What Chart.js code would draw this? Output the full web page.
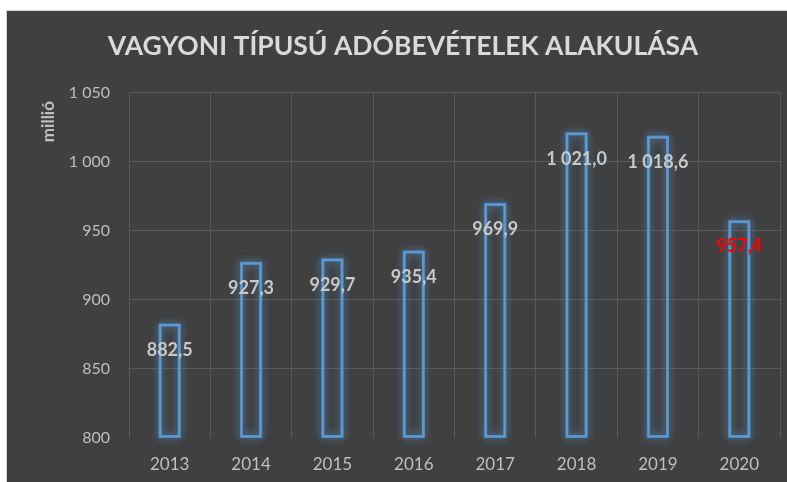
<!DOCTYPE html>
<html>
<head>
<meta charset="utf-8">
<script src="https://cdn.jsdelivr.net/npm/chart.js@4/dist/chart.umd.min.js"></script>
<style>
  html,body{margin:0;padding:0;background:#ffffff;width:787px;height:482px;overflow:hidden;}
  #box{position:absolute;left:6px;top:10px;width:781px;height:472px;background:#404040;border-top:1px solid #d4d4d4;border-left:1px solid #d4d4d4;}
  #wrap{position:absolute;left:0;top:0;width:781px;height:472px;}
</style>
</head>
<body>
<div id="box"><div id="wrap"><canvas id="c"></canvas></div></div>
<script>
const categories = ['2013','2014','2015','2016','2017','2018','2019','2020'];
const values = [882.5, 927.3, 929.7, 935.4, 969.9, 1021.0, 1018.6, 957.4];
const yTicks = [800, 850, 900, 950, 1000, 1050];
const titleText = 'VAGYONI TÍPUSÚ ADÓBEVÉTELEK ALAKULÁSA';
const yTitle = 'millió';

function fmtInt(v){
  const s = Math.round(v).toString();
  return s.replace(/\B(?=(\d{3})+(?!\d))/g, ' ');
}
function fmtDec(v){
  const ip = Math.floor(v);
  const dp = Math.round((v - ip) * 10);
  return fmtInt(ip) + ',' + dp;
}

const glowPlugin = {
  id: 'glow',
  beforeDatasetsDraw(chart){
    const ctx = chart.ctx;
    const meta = chart.getDatasetMeta(0);
    ctx.save();
    meta.data.forEach((el) => {
      const p = el.getProps(['x','y','base','width'], true);
      const left = p.x - p.width / 2;
      const top = Math.min(p.y, p.base);
      const h = Math.abs(p.base - p.y);
      ctx.shadowColor = 'rgba(91,155,213,0.9)';
      ctx.shadowBlur = 8;
      ctx.strokeStyle = 'rgba(91,155,213,0.5)';
      ctx.lineWidth = 3;
      ctx.strokeRect(left + 1, top + 1, p.width - 2, h - 2);
      ctx.strokeRect(left + 1, top + 1, p.width - 2, h - 2);
    });
    ctx.restore();
  },
  afterDatasetsDraw(chart){
    const ctx = chart.ctx;
    const meta = chart.getDatasetMeta(0);
    ctx.save();
    ctx.font = 'bold 18px Lato, "Open Sans", sans-serif';
    ctx.textAlign = 'center';
    ctx.textBaseline = 'middle';
    meta.data.forEach((el, i) => {
      ctx.fillStyle = (i === values.length - 1) ? '#ff0000' : '#c8c8c8';
      ctx.fillText(fmtDec(values[i]), el.x, el.y + 26);
    });
    ctx.restore();
  }
};

new Chart(document.getElementById('c'), {
  type: 'bar',
  data: {
    labels: categories,
    datasets: [{
      data: values,
      base: 800,
      backgroundColor: 'rgba(0,0,0,0)',
      borderColor: '#5b9bd5',
      borderWidth: 2,
      borderSkipped: false,
      barPercentage: 0.26,
      categoryPercentage: 1.0
    }]
  },
  options: {
    responsive: true,
    maintainAspectRatio: false,
    animation: false,
    clip: false,
    layout: { padding: { left: 19, right: 8, top: 0, bottom: 0 } },
    plugins: {
      legend: { display: false },
      tooltip: { enabled: false },
      title: {
        display: true,
        text: titleText,
        color: '#d9d9d9',
        font: { family: 'Lato, "Open Sans", sans-serif', size: 26.5, weight: 'bold' },
        padding: { top: 20, bottom: 30 }
      }
    },
    scales: {
      x: {
        grid: { color: '#595959', lineWidth: 1, offset: true, drawTicks: false },
        border: { display: false },
        ticks: { color: '#bfbfbf', font: { family: 'Lato, "Open Sans", sans-serif', size: 17 }, padding: 16 },
        afterFit(scale){ scale.height = 45; }
      },
      y: {
        min: 800, max: 1050,
        afterBuildTicks(scale){ scale.ticks = yTicks.map(v => ({ value: v })); },
        grid: {
          color: (c) => (c.tick && c.tick.value === 800) ? 'rgba(0,0,0,0)' : '#595959',
          lineWidth: 1, drawTicks: false
        },
        border: { display: false },
        ticks: {
          color: '#bfbfbf',
          font: { family: 'Lato, "Open Sans", sans-serif', size: 16 },
          padding: 19,
          callback: (v) => fmtInt(v)
        },
        title: {
          display: true,
          text: yTitle + '  ',
          align: 'end',
          color: '#bfbfbf',
          font: { family: 'Lato, "Open Sans", sans-serif', size: 17, weight: 'bold' },
          padding: { top: 12, bottom: 0 }
        },
        afterFit(scale){ scale.width = 103; }
      }
    }
  },
  plugins: [glowPlugin]
});
</script>
</body>
</html>
